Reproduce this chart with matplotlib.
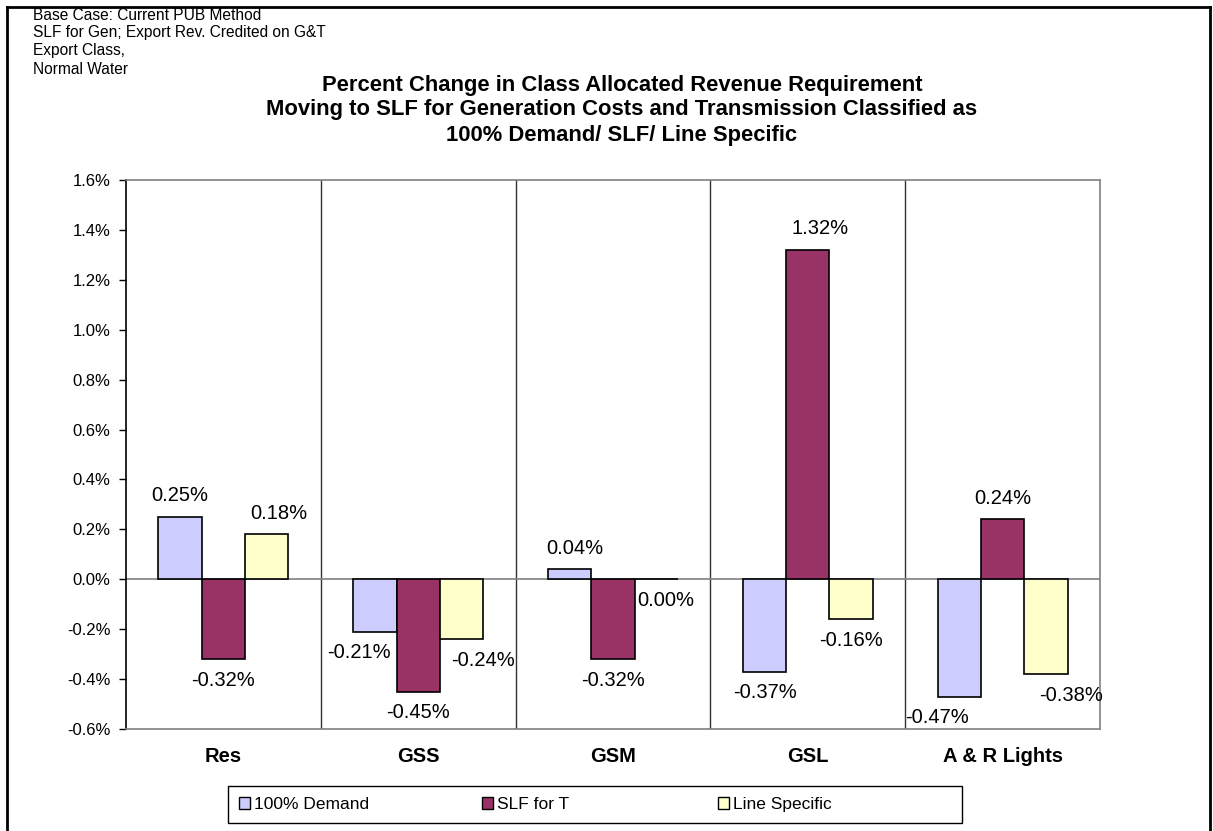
import matplotlib
matplotlib.use("Agg")
import matplotlib.pyplot as plt
import numpy as np
from matplotlib.patches import Patch, Rectangle
from matplotlib.lines import Line2D

plt.rcParams['font.family'] = ['Liberation Sans', 'DejaVu Sans']

categories = ["Res", "GSS", "GSM", "GSL", "A & R Lights"]
series_names = ["100% Demand", "SLF for T", "Line Specific"]
demand_100 = [0.25, -0.21, 0.04, -0.37, -0.47]
slf_for_t = [-0.32, -0.45, -0.32, 1.32, 0.24]
line_specific = [0.18, -0.24, 0.00, -0.16, -0.38]
yticks = [-0.6, -0.4, -0.2, 0.0, 0.2, 0.4, 0.6, 0.8, 1.0, 1.2, 1.4, 1.6]

colors = ["#CCCCFF", "#993366", "#FFFFCC"]
# label nudges (pixels) for labels moved in the original
nudges = {(0, 2): 12, (1, 0): -16, (1, 2): 22, (2, 0): 5, (2, 2): 9,
          (3, 1): 12, (4, 0): -22, (4, 2): 25}

W, H = 1213, 831
fig = plt.figure(figsize=(W / 100, H / 100), dpi=100)
ax = fig.add_axes([126 / W, (H - 729) / H, (1100 - 126) / W, (729 - 180) / H])

x = np.arange(len(categories))
bw = 1 / 4.5
series = [demand_100, slf_for_t, line_specific]
for i, vals in enumerate(series):
    pos = x + (i - 1) * bw
    ax.bar(pos, vals, width=bw, color=colors[i], edgecolor="black", linewidth=1.2, zorder=3)
    for j, (p, v) in enumerate(zip(pos, vals)):
        dx = nudges.get((j, i), 0)
        dy = 21 if v > 0 else -21
        ax.annotate(f"{v:.2f}%", (p, v), xytext=(dx, dy), textcoords="offset pixels",
                    ha="center", va="center", fontsize=14.5, zorder=4)

ax.set_xlim(-0.5, len(categories) - 0.5)
ax.set_ylim(-0.6, 1.6)
ax.set_yticks(yticks)
ax.set_yticklabels([f"{t:.1f}%" for t in yticks], fontsize=12)
ax.tick_params(axis="y", direction="out", length=5, width=1, pad=6, color="black")
ax.set_xticks(x)
ax.set_xticklabels(categories, fontsize=14.5, fontweight="bold")
ax.tick_params(axis="x", length=0, pad=13)

for b in np.arange(0.5, len(categories) - 0.5, 1):
    ax.axvline(b, color="#333333", linewidth=1, zorder=1)
ax.axhline(0, color="#808080", linewidth=1.2, zorder=2)

for s in ["top", "right", "bottom"]:
    ax.spines[s].set_color("#808080")
    ax.spines[s].set_linewidth(1.2)
ax.spines["left"].set_color("black")
ax.spines["left"].set_linewidth(1.2)

# Title
title_lines = ["Percent Change in Class Allocated Revenue Requirement",
               "Moving to SLF for Generation Costs and Transmission Classified as",
               "100% Demand/ SLF/ Line Specific"]
for k, t in enumerate(title_lines):
    fig.text(622 / W, 1 - (85 + 25 * k) / H, t, ha="center", va="center",
             fontsize=15.8, fontweight="bold")

note_lines = ["Base Case: Current PUB Method",
              "SLF for Gen; Export Rev. Credited on G&T",
              "Export Class,",
              "Normal Water"]
for k, t in enumerate(note_lines):
    fig.text(33 / W, 1 - (15 + 18 * k) / H, t, ha="left", va="center", fontsize=11.2)

# Legend: frame plus three equally spaced entries
fig.add_artist(Rectangle((228 / W, (H - 823) / H), (962 - 228) / W, 37 / H,
                         transform=fig.transFigure, facecolor="white",
                         edgecolor="black", linewidth=1))
entry_x = [239, 482, 718]
for c, name, ex in zip(colors, series_names, entry_x):
    fig.legend([Patch(facecolor=c, edgecolor="black", linewidth=1)], [name],
               loc="center left", bbox_to_anchor=(ex / W, 1 - 804.5 / H),
               frameon=False, fontsize=12.5, handlelength=0.65, handleheight=0.65,
               handletextpad=0.2, borderpad=0, borderaxespad=0)

# outer frame
lw = 2
fig.add_artist(Line2D([7 / W, 7 / W], [0, 1 - 7 / H], color="black", linewidth=lw))
fig.add_artist(Line2D([1210 / W, 1210 / W], [0, 1 - 7 / H], color="black", linewidth=lw))
fig.add_artist(Line2D([7 / W, 1210 / W], [1 - 7 / H, 1 - 7 / H], color="black", linewidth=lw))

fig.savefig("out.png", dpi=100)
